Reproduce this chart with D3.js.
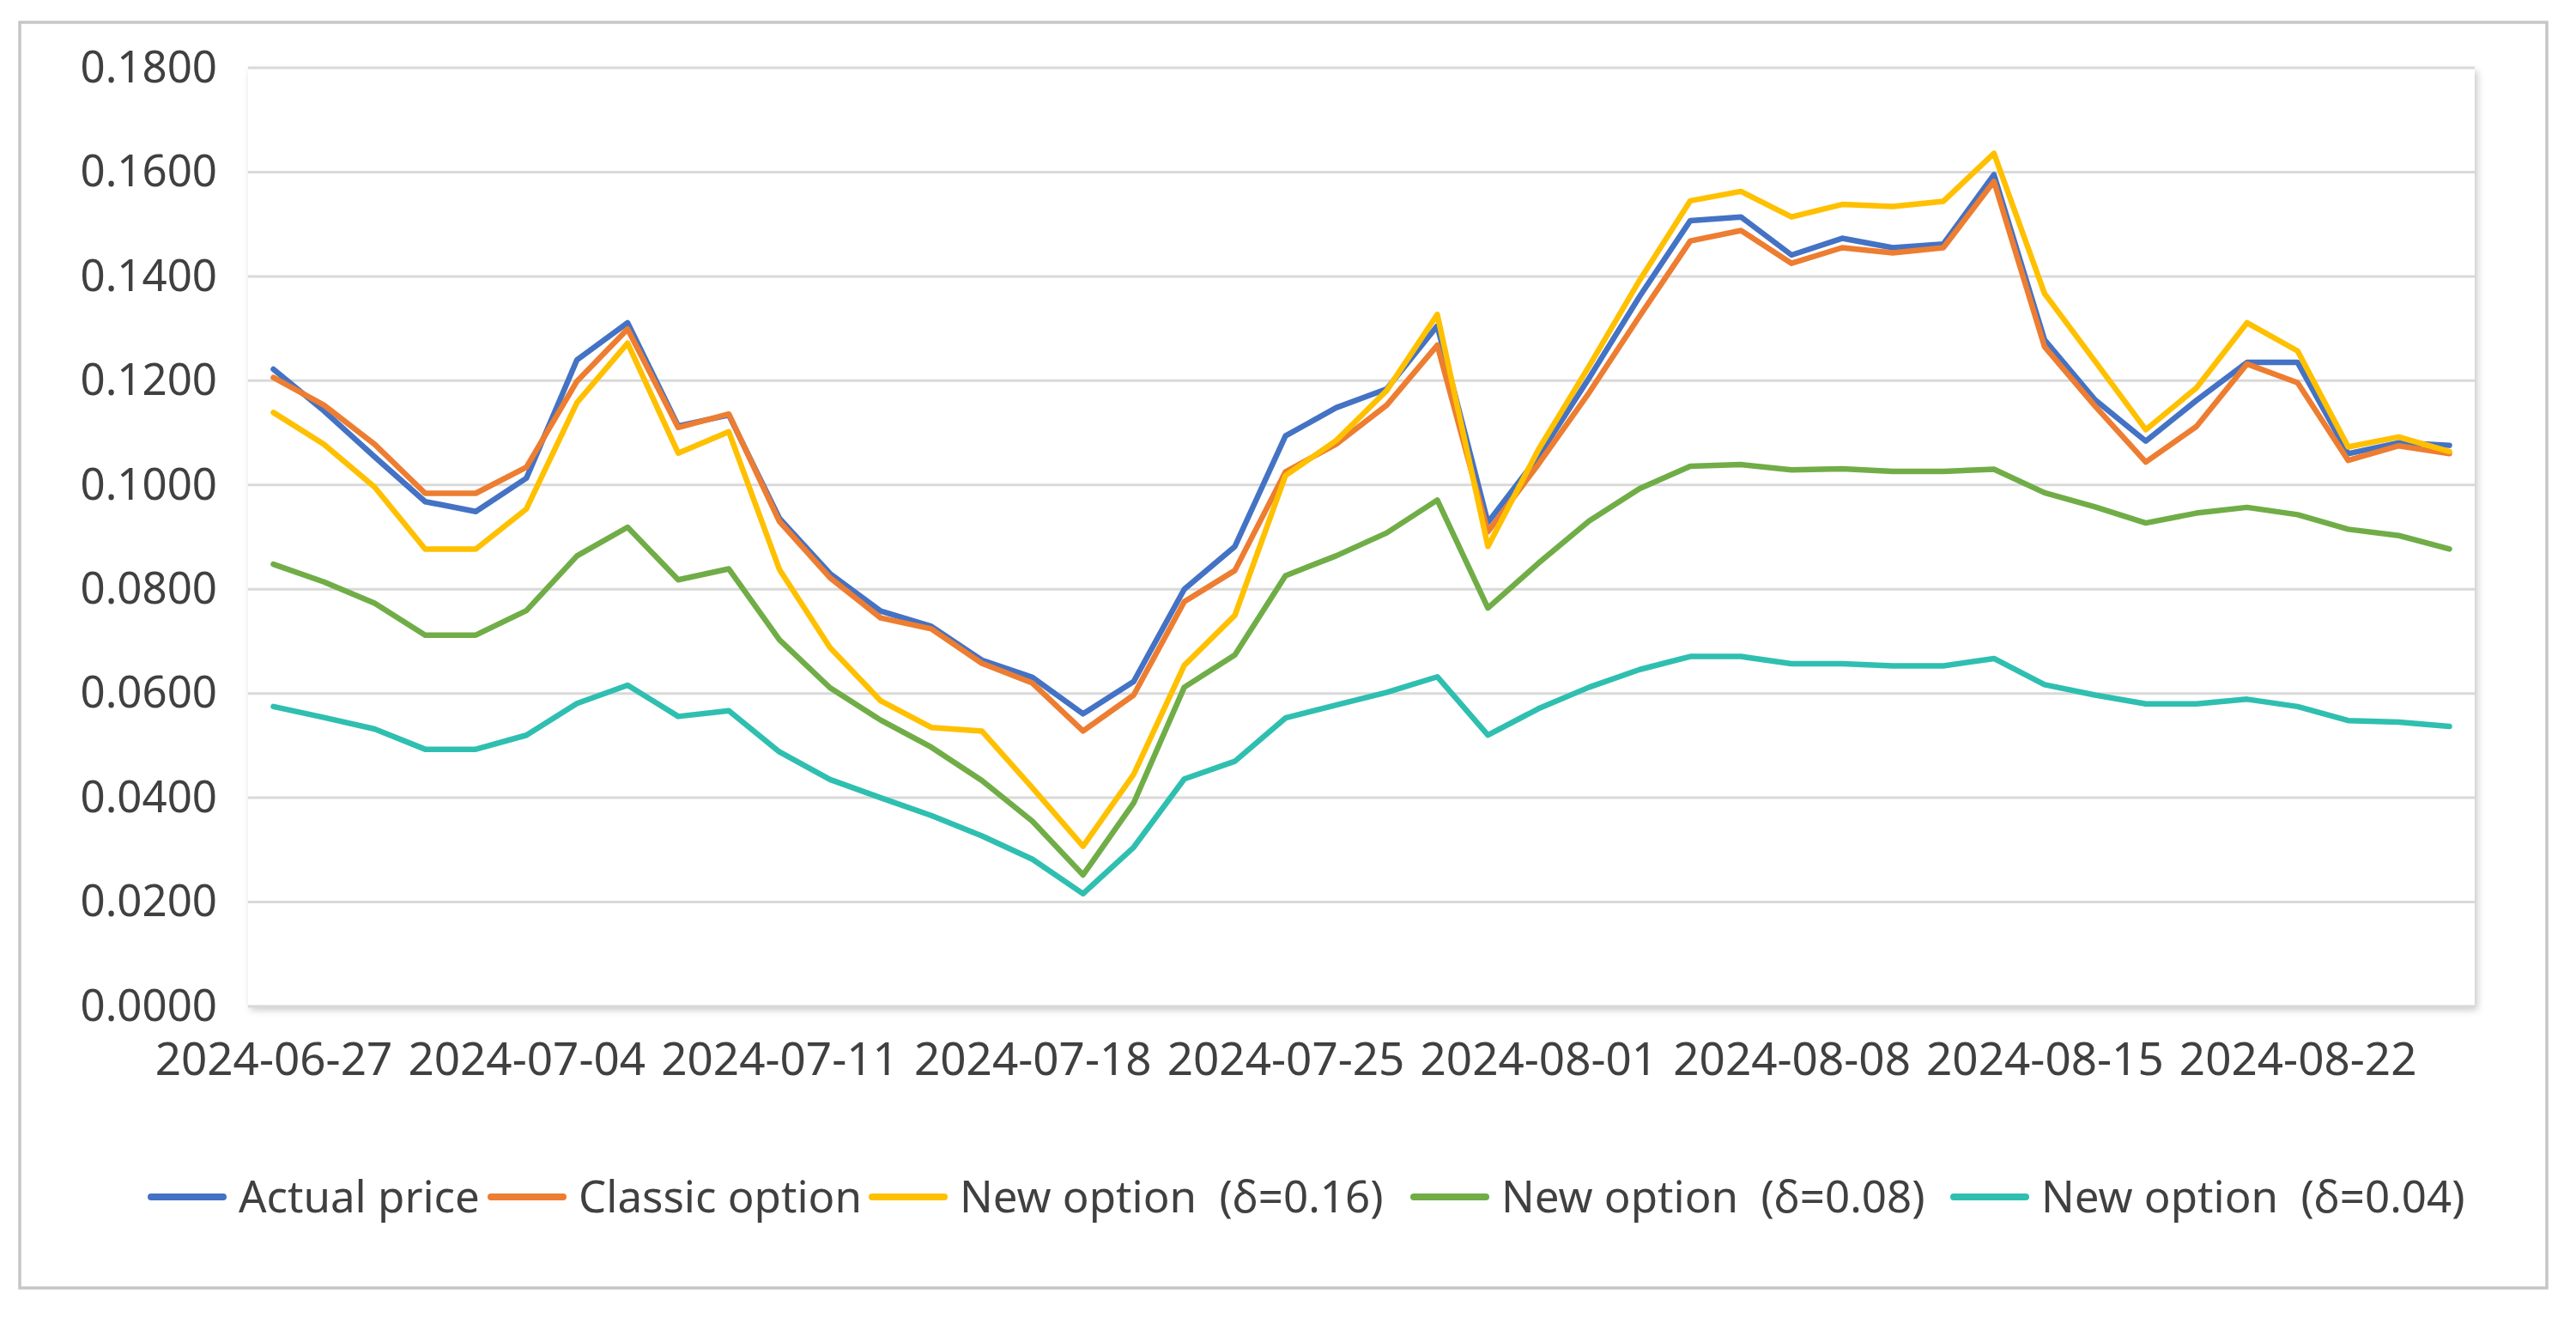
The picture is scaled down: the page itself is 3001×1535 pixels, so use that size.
<!DOCTYPE html>
<html><head><meta charset="utf-8">
<script src="https://cdn.jsdelivr.net/npm/d3@7"></script>
<style>
html,body{margin:0;padding:0;background:#fff;}
svg text{font-family:"Noto Sans","Open Sans",sans-serif;}
</style></head>
<body><svg id="chart" width="3001" height="1535"></svg>
<script>
const dates = ["2024-06-27","2024-06-28","2024-07-01","2024-07-02","2024-07-03","2024-07-04","2024-07-05","2024-07-08","2024-07-09","2024-07-10","2024-07-11","2024-07-12","2024-07-15","2024-07-16","2024-07-17","2024-07-18","2024-07-19","2024-07-22","2024-07-23","2024-07-24","2024-07-25","2024-07-26","2024-07-29","2024-07-30","2024-07-31","2024-08-01","2024-08-02","2024-08-05","2024-08-06","2024-08-07","2024-08-08","2024-08-09","2024-08-12","2024-08-13","2024-08-14","2024-08-15","2024-08-16","2024-08-19","2024-08-20","2024-08-21","2024-08-22","2024-08-23","2024-08-26","2024-08-27"];
const actualPrice = [0.1222,0.1142,0.1054,0.0968,0.0949,0.1013,0.1240,0.1311,0.1113,0.1134,0.0936,0.0830,0.0758,0.0729,0.0664,0.0631,0.0561,0.0623,0.0800,0.0882,0.1094,0.1148,0.1184,0.1305,0.0928,0.1055,0.1205,0.1362,0.1507,0.1514,0.1441,0.1473,0.1455,0.1462,0.1595,0.1278,0.1163,0.1084,0.1162,0.1235,0.1235,0.1060,0.1081,0.1076];
const classicOption = [0.1206,0.1153,0.1078,0.0984,0.0984,0.1034,0.1199,0.1299,0.1110,0.1136,0.0930,0.0822,0.0745,0.0724,0.0658,0.0620,0.0528,0.0597,0.0776,0.0836,0.1025,0.1078,0.1153,0.1268,0.0910,0.1040,0.1177,0.1324,0.1468,0.1488,0.1425,0.1455,0.1445,0.1455,0.1582,0.1265,0.1151,0.1044,0.1112,0.1232,0.1196,0.1047,0.1075,0.1060];
const newOption016 = [0.1139,0.1078,0.0996,0.0877,0.0877,0.0954,0.1158,0.1272,0.1061,0.1102,0.0838,0.0688,0.0586,0.0535,0.0528,0.0419,0.0307,0.0445,0.0654,0.0750,0.1018,0.1085,0.1181,0.1327,0.0882,0.1068,0.1228,0.1393,0.1545,0.1563,0.1514,0.1538,0.1534,0.1544,0.1636,0.1367,0.1237,0.1106,0.1186,0.1311,0.1257,0.1073,0.1092,0.1064];
const newOption008 = [0.0848,0.0814,0.0773,0.0712,0.0712,0.0759,0.0864,0.0919,0.0818,0.0839,0.0703,0.0611,0.0549,0.0497,0.0433,0.0355,0.0252,0.0390,0.0612,0.0674,0.0826,0.0864,0.0908,0.0971,0.0764,0.0850,0.0931,0.0993,0.1036,0.1039,0.1029,0.1031,0.1026,0.1026,0.1030,0.0985,0.0958,0.0927,0.0946,0.0957,0.0943,0.0915,0.0903,0.0877];
const newOption004 = [0.0575,0.0554,0.0532,0.0493,0.0493,0.0520,0.0581,0.0616,0.0556,0.0567,0.0488,0.0435,0.0400,0.0366,0.0327,0.0282,0.0216,0.0305,0.0436,0.0470,0.0553,0.0578,0.0602,0.0632,0.0520,0.0571,0.0612,0.0646,0.0671,0.0671,0.0657,0.0657,0.0653,0.0653,0.0667,0.0617,0.0597,0.0580,0.0580,0.0589,0.0575,0.0548,0.0545,0.0537];
const seriesNames = ["Actual price","Classic option","New option  (δ=0.16)","New option  (δ=0.08)","New option  (δ=0.04)"];
const yTicks = [0,0.02,0.04,0.06,0.08,0.10,0.12,0.14,0.16,0.18];
const xTickLabels = ["2024-06-27","2024-07-04","2024-07-11","2024-07-18","2024-07-25","2024-08-01","2024-08-08","2024-08-15","2024-08-22"];

const seriesValues = [actualPrice, classicOption, newOption016, newOption008, newOption004];
const colors = ["#4472C4","#ED7D31","#FFC000","#70AD47","#2FBFB0"];

const svg = d3.select("#chart");
const plot = {left:289, right:2883, top:79, bottom:1172};

const defs = svg.append("defs");
const f = defs.append("filter").attr("id","shadow").attr("x","-2%").attr("y","-2%").attr("width","104%").attr("height","106%");
f.append("feDropShadow").attr("dx",3).attr("dy",4).attr("stdDeviation",4).attr("flood-color","#000").attr("flood-opacity",0.22);

// outer border
svg.append("rect").attr("x",23).attr("y",26).attr("width",2944).attr("height",1474)
  .attr("fill","#fff").attr("stroke","#c6c6c6").attr("stroke-width",3.5);

// plot area with shadow
svg.append("rect").attr("x",plot.left).attr("y",plot.top).attr("width",plot.right-plot.left).attr("height",plot.bottom-plot.top)
  .attr("fill","#fff").attr("filter","url(#shadow)");

const x = d3.scalePoint().domain(dates).range([plot.left, plot.right]).padding(0.5);
const y = d3.scaleLinear().domain([0,0.18]).range([plot.bottom, plot.top]);

// gridlines
svg.append("g").selectAll("line").data(yTicks).join("line")
  .attr("x1",plot.left).attr("x2",plot.right)
  .attr("y1",d=>y(d)).attr("y2",d=>y(d))
  .attr("stroke","#d9d9d9").attr("stroke-width",3);

// y axis
const yAxis = svg.append("g").attr("transform",`translate(${plot.left-36},0)`)
  .call(d3.axisLeft(y).tickValues(yTicks).tickFormat(d3.format(".4f")).tickSize(0).tickPadding(0));
yAxis.select(".domain").remove();
yAxis.selectAll("text").attr("font-size",51).attr("fill","#404040").attr("font-family","'Noto Sans',sans-serif");

// x axis
const xAxis = svg.append("g").attr("transform",`translate(0,${plot.bottom})`)
  .call(d3.axisBottom(x).tickValues(xTickLabels).tickSize(0).tickPadding(42));
xAxis.select(".domain").remove();
xAxis.selectAll("text").attr("font-size",53).attr("fill","#404040").attr("font-family","'Noto Sans',sans-serif");

// lines
const line = d3.line().x((d,i)=>x(dates[i])).y(d=>y(d));
svg.append("g").selectAll("path").data(seriesValues).join("path")
  .attr("d",d=>line(d)).attr("fill","none")
  .attr("stroke",(d,i)=>colors[i]).attr("stroke-width",6.5)
  .attr("stroke-linejoin","round").attr("stroke-linecap","round");

// legend
const legendX = [172, 568, 1012, 1643, 2272];
const legendY = 1394;
const lg = svg.append("g").selectAll("g").data(seriesNames).join("g")
  .attr("transform",(d,i)=>`translate(${legendX[i]},${legendY})`);
lg.append("line").attr("x1",4).attr("x2",88).attr("y1",0).attr("y2",0)
  .attr("stroke",(d,i)=>colors[i]).attr("stroke-width",8).attr("stroke-linecap","round");
lg.append("text").attr("x",106).attr("y",0).attr("dy","0.35em")
  .attr("font-size",51).attr("fill","#404040").style("white-space","pre")
  .text(d=>d);
</script></body></html>
